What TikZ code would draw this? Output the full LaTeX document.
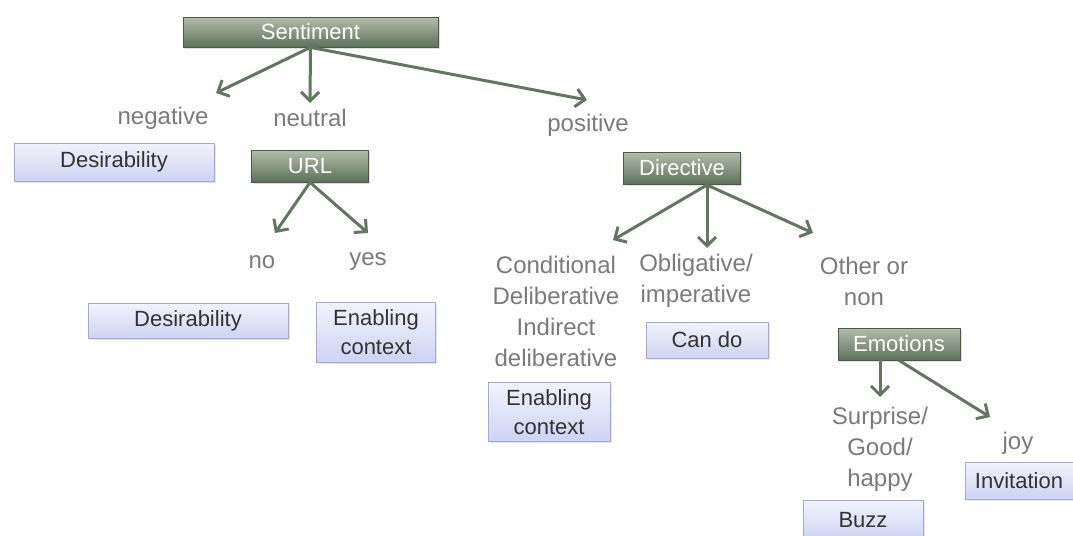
\documentclass[tikz,border=0pt]{standalone}
\usepackage{fontspec}
\setmainfont{Liberation Sans}
\usepackage{tikz}
\usetikzlibrary{arrows.meta, shadows, positioning}

\definecolor{catgreen}{HTML}{5E7159}
\definecolor{catgreentop}{HTML}{B3BDAD}
\definecolor{arrowgreen}{HTML}{627660}
\definecolor{leafblue}{HTML}{D0D3F2}
\definecolor{leaftop}{HTML}{F2F3FD}
\definecolor{leafline}{HTML}{A4A8D6}
\definecolor{labelgray}{HTML}{7A7A7A}

\begin{document}
\begin{tikzpicture}[x=0.5pt, y=-0.5pt,
			cat/.style={draw=catgreen!80!black, top color=catgreentop, bottom color=catgreen, text=white,
				font=\fontsize{11}{13}\selectfont, inner sep=0pt,
				drop shadow={shadow xshift=0.8pt, shadow yshift=-0.8pt, opacity=0.25}},
			leaf/.style={draw=leafline, top color=leaftop, bottom color=leafblue, text=black!80,
				font=\fontsize{11}{14.5}\selectfont, align=center, inner sep=0pt,
				drop shadow={shadow xshift=0.8pt, shadow yshift=-0.8pt, opacity=0.2}},
			choice/.style={text=labelgray, font=\fontsize{12}{15.5}\selectfont, align=center, inner sep=1pt},
			arr/.style={draw=arrowgreen, line width=1.5pt, -{Straight Barb[length=4.5pt, width=9pt, line width=1.5pt]}}]
	\useasboundingbox (0,0) rectangle (1073,536);

	% top level
	\node[cat, minimum width=127.5pt, minimum height=15pt] (sentiment) at (310.5,32) {Sentiment};
	\node[choice] (negative) at (163,118) {negative};
	\node[choice] (neutral) at (310,118) {neutral};
	\node[choice] (positive) at (588,125) {positive};
	\coordinate (negtip) at (216,93);
	\coordinate (neutip) at (310,103);
	\coordinate (postip) at (587,100);
	\draw[arr] (sentiment.south) -- (negtip);
	\draw[arr] (sentiment.south) -- (neutip);
	\draw[arr] (sentiment.south) -- (postip);

	% negative / neutral
	\node[leaf, minimum width=100pt, minimum height=19pt] (desire1) at (114,162) {Desirability};
	\node[cat, minimum width=58.5pt, minimum height=16pt] (url) at (310,166) {URL};
	\node[choice] (no) at (262,262) {no};
	\node[choice] (yes) at (368,262) {yes};
	\coordinate (notip) at (275,233);
	\coordinate (yestip) at (368,233);
	\draw[arr] (url.south) -- (notip);
	\draw[arr] (url.south) -- (yestip);
	\node[leaf, minimum width=100pt, minimum height=17.5pt] (desire2) at (188,321) {Desirability};
	\node[leaf, minimum width=59.5pt, minimum height=30pt] (enable1) at (376,332) {Enabling\\context};

	% positive
	\node[cat, minimum width=58.5pt, minimum height=16pt] (directive) at (682,168) {Directive};
	\coordinate (dirfrom) at (707,185);
	\coordinate (condtip) at (613,240);
	\coordinate (obligtip) at (707,248);
	\coordinate (othertip) at (813,233);
	\draw[arr] (dirfrom) -- (condtip);
	\draw[arr] (dirfrom) -- (obligtip);
	\draw[arr] (dirfrom) -- (othertip);
	\node[choice] (conditional) at (556,311.5) {Conditional\\Deliberative\\Indirect\\deliberative};
	\node[choice] (obligative) at (696,281) {Obligative/\\imperative};
	\node[choice] (other) at (864,281) {Other or\\non};
	\node[leaf, minimum width=61pt, minimum height=18pt] (cando) at (707,340) {Can do};
	\node[leaf, minimum width=61pt, minimum height=29.5pt] (enable2) at (549,412) {Enabling\\context};

	% emotions
	\node[cat, minimum width=61pt, minimum height=16pt] (emotions) at (899,344) {Emotions};
	\coordinate (surptip) at (880,397);
	\coordinate (joytip) at (990,417);
	\draw[arr] (emotions.south -| surptip) -- (surptip);
	\draw[arr] (emotions.south) -- (joytip);
	\node[choice] (surprise) at (880,449) {Surprise/\\Good/\\happy};
	\node[choice] (joy) at (1018,443) {joy};
	\node[leaf, minimum width=54pt, minimum height=18.5pt] (invitation) at (1019,481) {Invitation};
	\node[leaf, minimum width=60pt, minimum height=20pt] (buzz) at (863,520) {Buzz};
\end{tikzpicture}
\end{document}
